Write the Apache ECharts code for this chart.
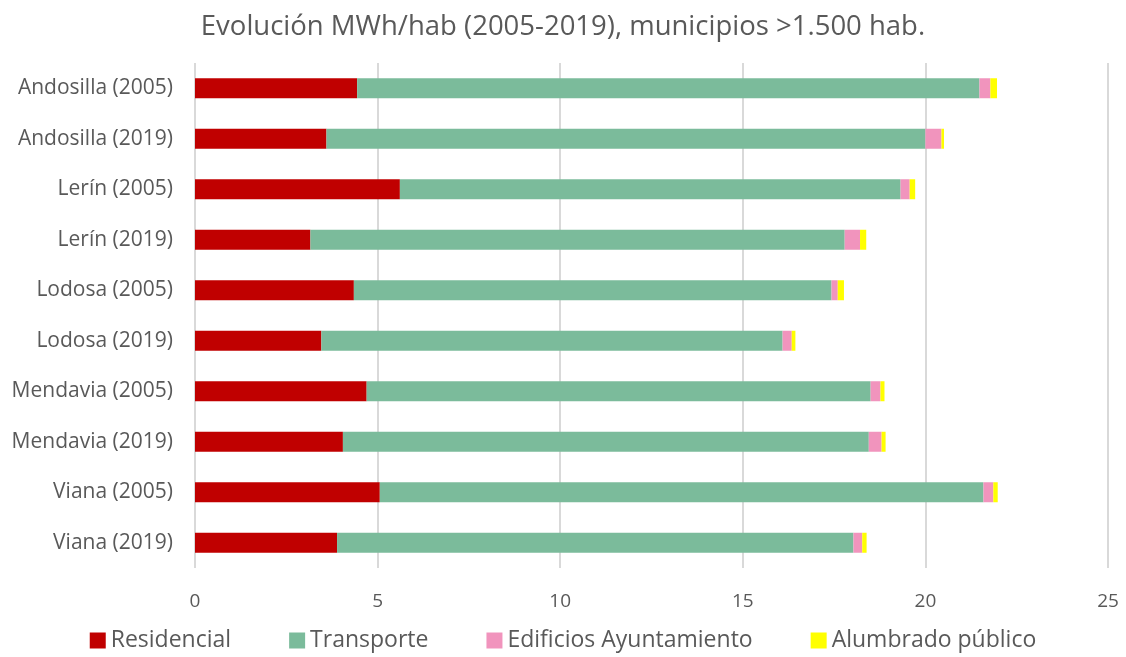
<!DOCTYPE html>
<html>
<head>
<meta charset="utf-8">
<script src="https://cdn.jsdelivr.net/npm/echarts@6/dist/echarts.min.js"></script>
<style>
  html, body { margin: 0; padding: 0; background: #fff; }
  #chart { width: 1126px; height: 657px; }
</style>
</head>
<body>
<div id="chart"></div>
<script>
// Datos (MWh/hab)
const categorias = ['Andosilla (2005)', 'Andosilla (2019)', 'Lerín (2005)', 'Lerín (2019)', 'Lodosa (2005)',
    'Lodosa (2019)', 'Mendavia (2005)', 'Mendavia (2019)', 'Viana (2005)', 'Viana (2019)'];
const residencial = [4.44, 3.60, 5.61, 3.16, 4.35, 3.46, 4.70, 4.05, 5.06, 3.89];
const transporte = [17.04, 16.40, 13.71, 14.63, 13.08, 12.63, 13.80, 14.40, 16.53, 14.14];
const edificios = [0.30, 0.44, 0.25, 0.42, 0.17, 0.25, 0.27, 0.35, 0.27, 0.24];
const alumbrado = [0.18, 0.07, 0.15, 0.17, 0.17, 0.10, 0.11, 0.11, 0.12, 0.12];

const fuente = '"Open Sans", sans-serif';

const chart = echarts.init(document.getElementById('chart'));

function serie(nombre, datos, color) {
    return {
        name: nombre,
        type: 'bar',
        stack: 'total',
        data: datos,
        barWidth: 20,
        itemStyle: { color: color },
        emphasis: { disabled: true }
    };
}

const option = {
    animation: false,
    title: {
        text: 'Evolución MWh/hab (2005-2019), municipios >1.500 hab.',
        left: 'center',
        top: 8,
        textStyle: { fontFamily: fuente, fontSize: 27.5, fontWeight: 'normal', color: '#595959' }
    },
    legend: {
        bottom: 0,
        left: 'center',
        itemWidth: 16,
        itemHeight: 16,
        itemGap: 58,
        icon: 'rect',
        textStyle: { fontFamily: fuente, fontSize: 23, color: '#595959' },
        data: ['Residencial', 'Transporte', 'Edificios Ayuntamiento', 'Alumbrado público']
    },
    grid: {
        left: 195,
        right: 18,
        top: 63,
        height: 505
    },
    xAxis: {
        type: 'value',
        min: 0,
        max: 25,
        interval: 5,
        axisLine: { show: false },
        axisTick: { show: false },
        axisLabel: { fontFamily: fuente, fontSize: 19, color: '#595959', margin: 24 },
        splitLine: { lineStyle: { color: '#d9d9d9', width: 2 } }
    },
    yAxis: {
        type: 'category',
        inverse: true,
        data: categorias,
        axisLine: { show: false },
        axisTick: { show: false },
        axisLabel: { fontFamily: fuente, fontSize: 21, color: '#595959', margin: 22 }
    },
    series: [
        serie('Residencial', residencial, '#c00000'),
        serie('Transporte', transporte, '#7bbb9b'),
        serie('Edificios Ayuntamiento', edificios, '#f194bd'),
        serie('Alumbrado público', alumbrado, '#ffff00')
    ]
};

chart.setOption(option);
window.addEventListener('resize', () => chart.resize());
</script>
</body>
</html>
